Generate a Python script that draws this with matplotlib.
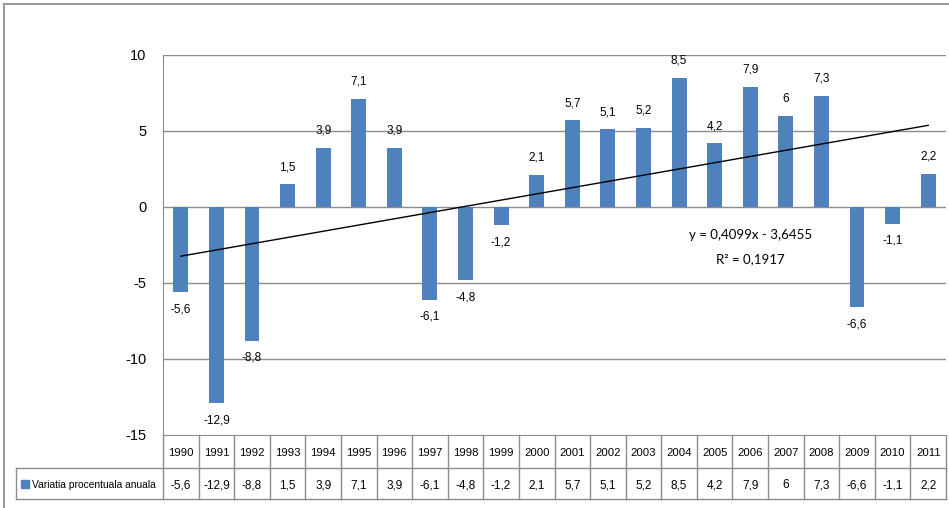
import numpy as np
import matplotlib
matplotlib.use("Agg")
import matplotlib.pyplot as plt
from matplotlib.lines import Line2D

years = ["1990", "1991", "1992", "1993", "1994", "1995", "1996", "1997", "1998", "1999", "2000",
         "2001", "2002", "2003", "2004", "2005", "2006", "2007", "2008", "2009", "2010", "2011"]
values = [-5.6, -12.9, -8.8, 1.5, 3.9, 7.1, 3.9, -6.1, -4.8, -1.2, 2.1,
          5.7, 5.1, 5.2, 8.5, 4.2, 7.9, 6.0, 7.3, -6.6, -1.1, 2.2]
series_name = "Variatia procentuala anuala"
trend_slope = 0.4099
trend_intercept = -3.6455
trend_r2 = 0.1917

plt.rcParams["axes.unicode_minus"] = False
narrow = ["Liberation Sans", "DejaVu Sans"]
bar_color = "#4F81BD"
grid_color = "#8C8C8C"

W, H = 949, 508
fig = plt.figure(figsize=(W / 100, H / 100), dpi=100)

def fx(px):
    return px / W

def fy(py):
    return 1 - py / H

# plot area in pixels
left, right, top, bottom = 163, 946, 55, 435
ax = fig.add_axes([fx(left), fy(bottom), fx(right) - fx(left), fy(top) - fy(bottom)])

x = np.arange(1, len(years) + 1)
ax.bar(x, values, width=0.42, color=bar_color, zorder=2)
ax.set_xlim(0.5, len(years) + 0.5)
ax.set_ylim(-15, 10)
ax.set_yticks([-15, -10, -5, 0, 5, 10])
ax.set_xticks([])
for yv in [-10, -5, 0, 5, 10]:
    ax.axhline(yv, color=grid_color, lw=1, zorder=1)
for s in ["top", "right"]:
    ax.spines[s].set_visible(False)
ax.spines["left"].set_color(grid_color)
ax.spines["bottom"].set_color(grid_color)
ax.tick_params(axis="y", length=0, pad=12, labelsize=10.5)
for lbl in ax.get_yticklabels():
    lbl.set_family(narrow)

# bar value labels
for xi, v in zip(x, values):
    txt = f"{v:g}".replace(".", ",")
    if v >= 0:
        ax.annotate(txt, (xi, v), xytext=(0, 8), textcoords="offset points",
                    ha="center", va="bottom", fontsize=8.5, family=narrow)
    else:
        ax.annotate(txt, (xi, v), xytext=(0, -8), textcoords="offset points",
                    ha="center", va="top", fontsize=8.5, family=narrow)

# linear trendline
tx = np.array([x[0], x[-1]])
ax.plot(tx, trend_slope * tx + trend_intercept, color="black", lw=1, zorder=3)
eq = f"y = {trend_slope:.4f}x - {abs(trend_intercept):.4f}".replace(".", ",")
ax.text(17.0, -1.85, eq, ha="center", va="center", fontsize=9.5, family=["Lato", "DejaVu Sans"])
ax.text(17.0, -3.4, f"R² = {trend_r2:.4f}".replace(".", ","), ha="center", va="center",
        fontsize=9.5, family=["Lato", "DejaVu Sans"])

# data table below the plot
tleft, tmid, tbot = 16, 468, 499
col_w = (right - left) / len(years)
def tline(x0, y0, x1, y1):
    fig.add_artist(Line2D([fx(x0), fx(x1)], [fy(y0), fy(y1)], color=grid_color, lw=1))

tline(tleft, tmid, right, tmid)
tline(tleft, tbot, right, tbot)
tline(tleft, tmid, tleft, tbot)
for i in range(len(years) + 1):
    cx = left + i * col_w
    tline(cx, bottom, cx, tbot)
for i, (yr, v) in enumerate(zip(years, values)):
    cx = left + (i + 0.5) * col_w
    fig.text(fx(cx), fy((bottom + tmid) / 2), yr, ha="center", va="center_baseline",
             fontsize=8.2, family=narrow)
    fig.text(fx(cx), fy((tmid + tbot) / 2), f"{v:g}".replace(".", ","), ha="center",
             va="center_baseline", fontsize=8.5, family=narrow)
# legend key in the table
fig.add_artist(plt.Rectangle((fx(21), fy(488)), fx(8), fy(480) - fy(488), color=bar_color))
fig.text(fx(32), fy((tmid + tbot) / 2), series_name, ha="left", va="center_baseline",
         fontsize=7.4, family=narrow)

# outer chart frame
fig.add_artist(Line2D([fx(4), 1], [fy(4), fy(4)], color="#9A9A9A", lw=1.5))
fig.add_artist(Line2D([fx(4), fx(4)], [fy(4), 0], color="#9A9A9A", lw=1.5))

fig.savefig("out.png", dpi=100)
